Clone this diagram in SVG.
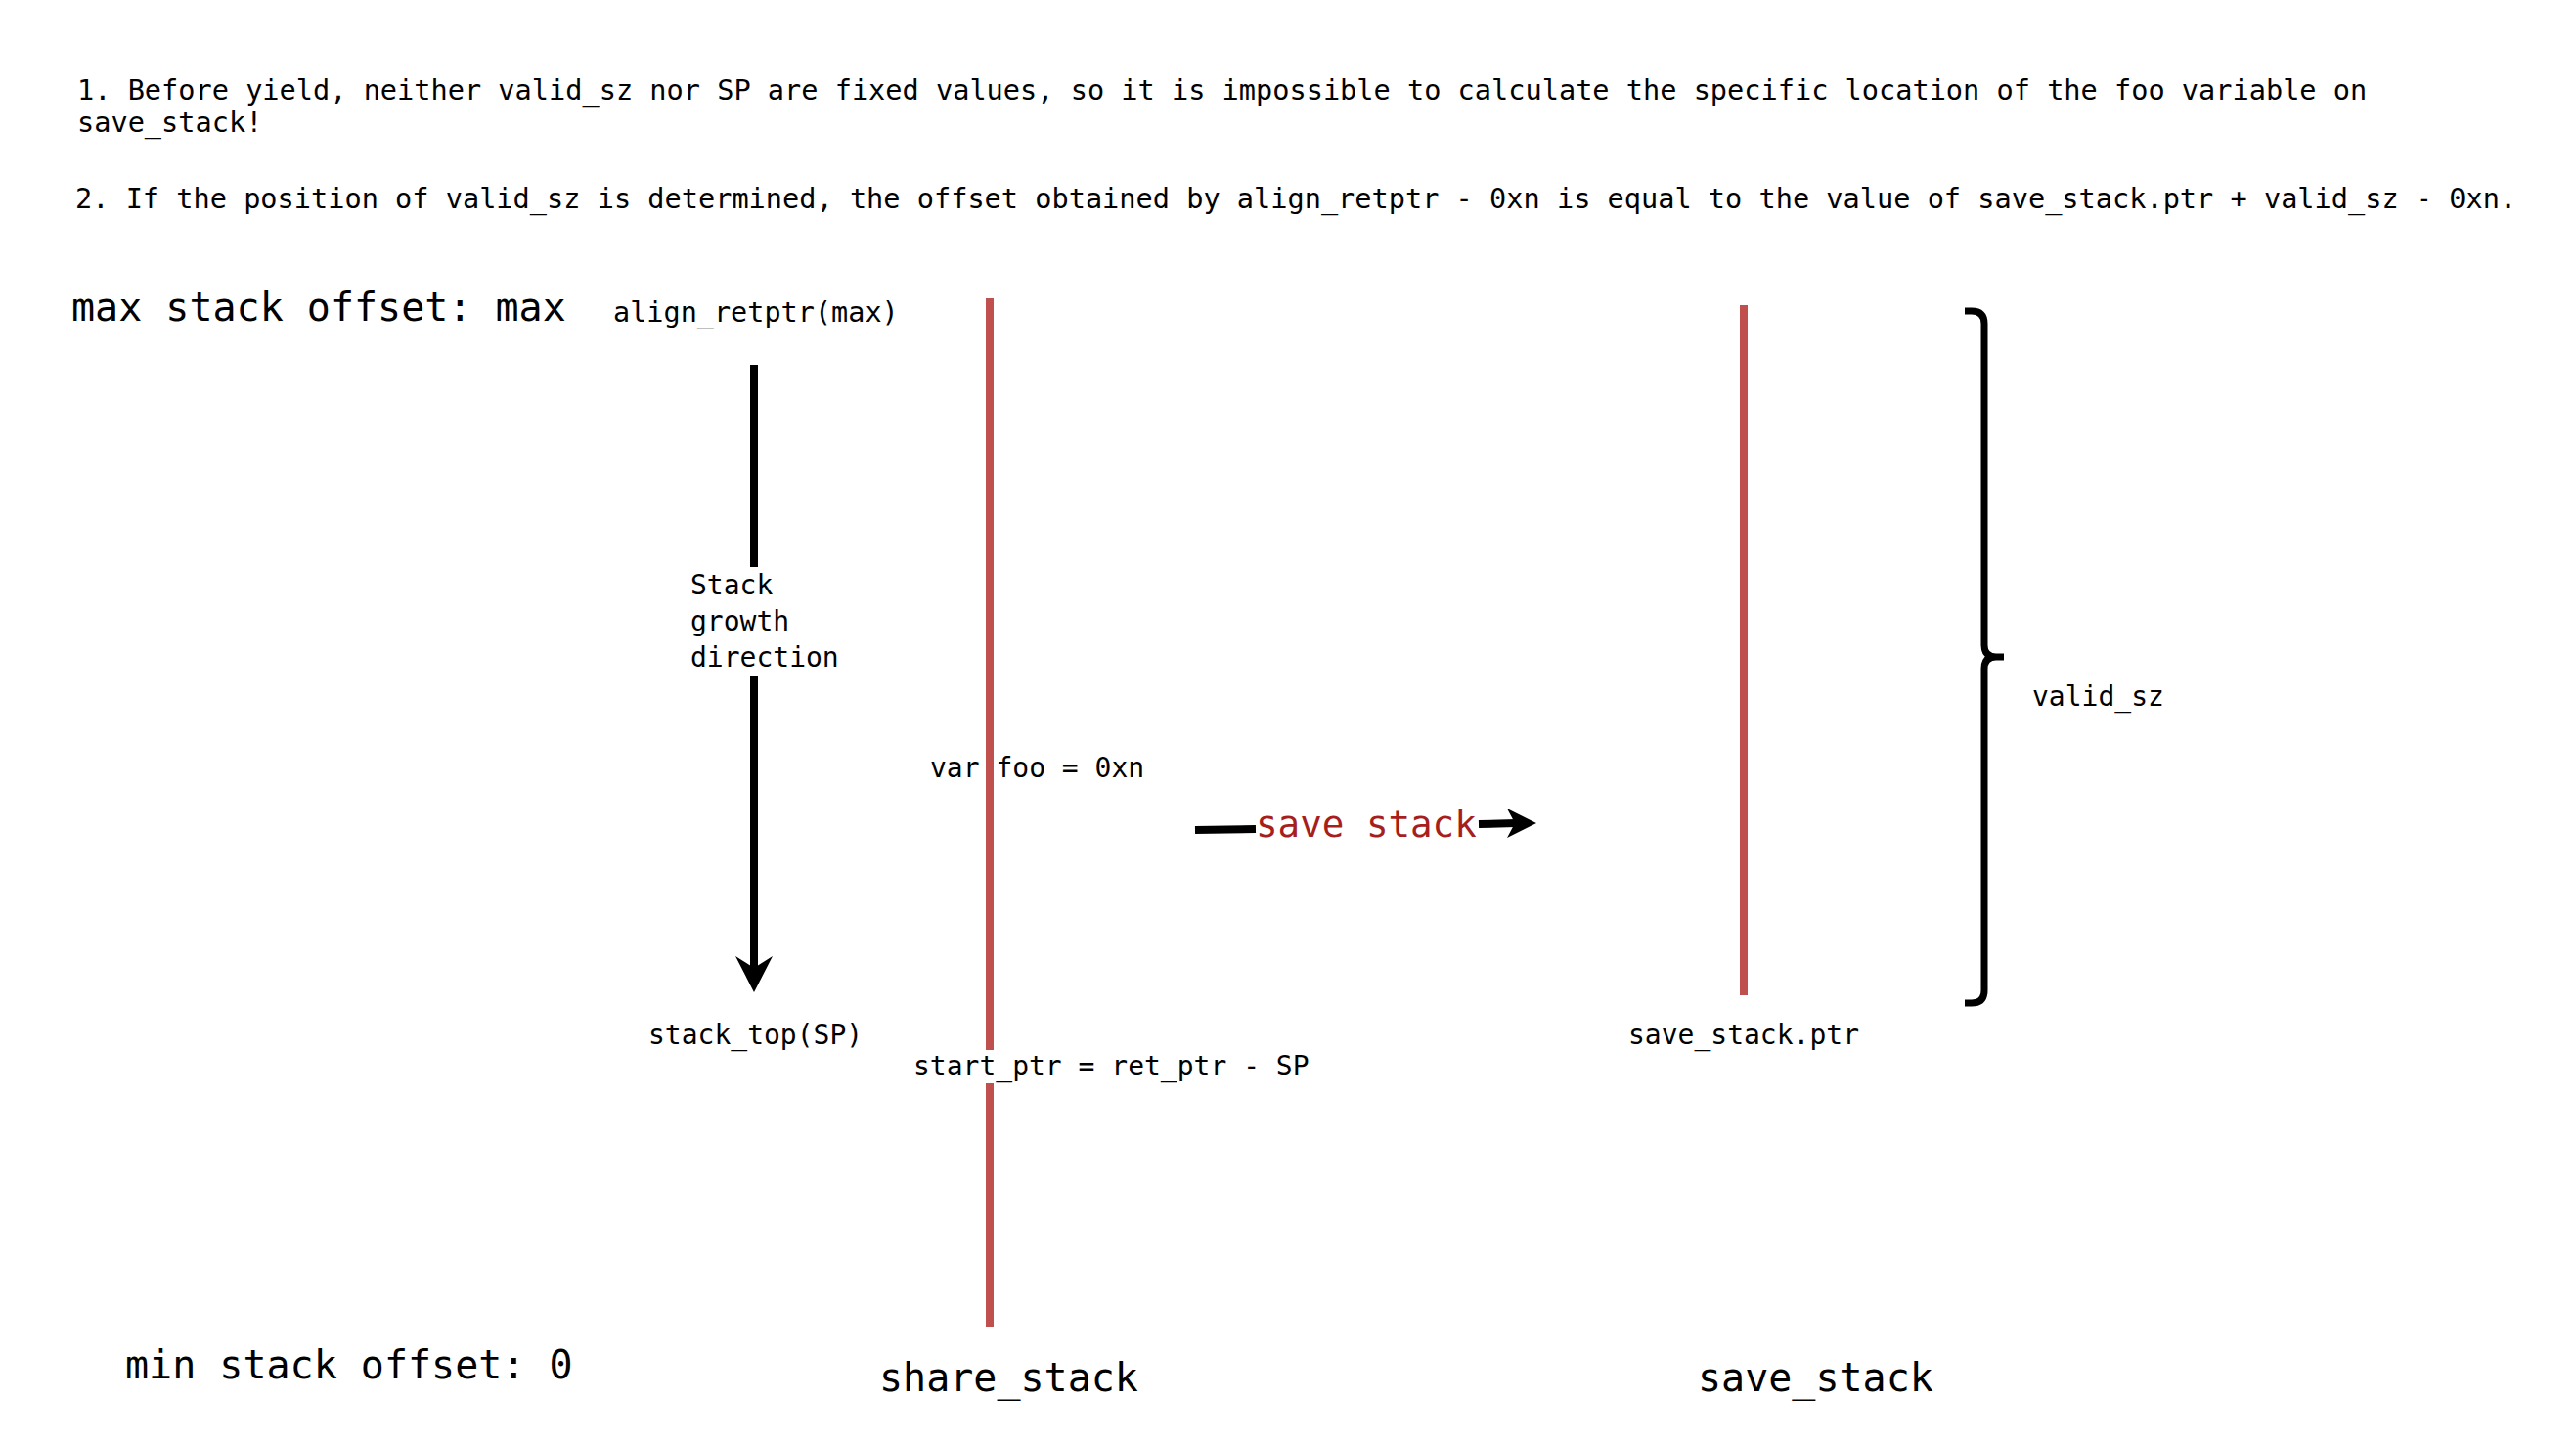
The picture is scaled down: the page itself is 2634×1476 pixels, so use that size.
<svg xmlns="http://www.w3.org/2000/svg" width="2634" height="1476" viewBox="0 0 2634 1476">
<style>
  text { font-family: "DejaVu Sans Mono", "Liberation Mono", monospace; fill: #000; }
  .note { font-size: 28.6px; }
  .lbl { font-size: 28px; }
  .big { font-size: 40px; }
  .red { fill: #A61E1E; font-size: 37.5px; }
  .stack { stroke: #C0504D; stroke-width: 8; fill: none; }
  .conn { stroke: #000; stroke-width: 8; fill: none; }
</style>
<rect width="2634" height="1476" fill="#fff"/>

<g id="notes">
  <text class="note" x="79" y="102">1. Before yield, neither valid_sz nor SP are fixed values, so it is impossible to calculate the specific location of the foo variable on</text>
  <text class="note" x="79" y="135">save_stack!</text>
  <text class="note" x="77" y="213">2. If the position of valid_sz is determined, the offset obtained by align_retptr - 0xn is equal to the value of save_stack.ptr + valid_sz - 0xn.</text>
</g>

<g id="max-offset"><text class="big" x="73" y="328">max stack offset: max</text></g>
<g id="min-offset"><text class="big" x="128" y="1410">min stack offset: 0</text></g>
<g id="align-retptr"><text class="lbl" x="627" y="329" style="font-size:28.5px">align_retptr(max)</text></g>
<g id="stack-top"><text class="lbl" x="663" y="1068">stack_top(SP)</text></g>

<g id="share-stack">
  <line class="stack" x1="1012" y1="305" x2="1012" y2="1074"/>
  <line class="stack" x1="1012" y1="1108" x2="1012" y2="1357"/>
  <text class="big" x="899" y="1423">share_stack</text>
</g>
<g id="var-foo"><text class="lbl" x="951" y="795">var foo = 0xn</text></g>
<g id="start-ptr"><text class="lbl" x="934" y="1100">start_ptr = ret_ptr - SP</text></g>

<g id="save-stack">
  <line class="stack" x1="1783" y1="312" x2="1783" y2="1018"/>
  <text class="big" x="1736" y="1423">save_stack</text>
</g>
<g id="save-stack-ptr"><text class="lbl" x="1665" y="1068">save_stack.ptr</text></g>

<g id="valid-sz">
  <path d="M2009,318 H2016 Q2029,318 2029,331 V660 Q2029,672 2041,672 H2049 M2041,672 Q2029,672 2029,684 V1013 Q2029,1026 2016,1026 H2009" stroke="#000" stroke-width="7" fill="none"/>
  <text class="lbl" x="2078" y="722">valid_sz</text>
</g>

<g id="connectors">
  <g id="growth-arrow">
    <line class="conn" x1="771" y1="373" x2="771" y2="580"/>
    <line class="conn" x1="771" y1="691" x2="771" y2="992"/>
    <polygon points="771,1015 752,978 771,990 790,978" fill="#000"/>
    <text class="lbl" x="706" y="608">Stack</text>
    <text class="lbl" x="706" y="645">growth</text>
    <text class="lbl" x="706" y="682">direction</text>
  </g>
  <g id="save-arrow">
    <line class="conn" x1="1222" y1="849" x2="1284" y2="848"/>
    <line class="conn" x1="1512" y1="843" x2="1550" y2="842"/>
    <polygon points="1571,842 1541,827 1549,842 1541,857" fill="#000"/>
    <text class="red" x="1284" y="856">save stack</text>
  </g>
</g>
</svg>
